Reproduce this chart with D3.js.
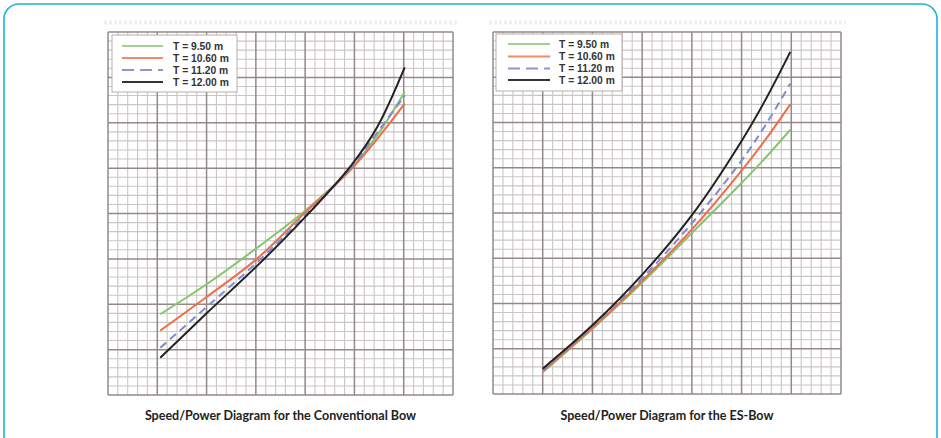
<!DOCTYPE html>
<html>
<head>
<meta charset="utf-8">
<script src="https://cdn.jsdelivr.net/npm/d3@7"></script>
<style>
  html, body { margin: 0; padding: 0; background: #ffffff; }
  svg { display: block; }
</style>
</head>
<body>
<svg id="chart" width="941" height="438"></svg>
<script>
// ---------------- DATA (grid units: 35 minor divisions across, 40 up) ----------------
const seriesLabels = ["T = 9.50 m", "T = 10.60 m", "T = 11.20 m", "T = 12.00 m"];
const captions = ["Speed/Power Diagram for the Conventional Bow", "Speed/Power Diagram for the ES-Bow"];

// Conventional bow
const convSpeed   = [5.3, 10.0, 15.1, 20.0, 24.6, 27.3, 30.1];
const convT950    = [8.9, 12.2, 16.2, 20.3, 24.9, 28.6, 33.4];
const convT1060   = [7.1, 10.8, 15.0, 20.1, 24.8, 28.2, 32.1];
const convT1120   = [5.2,  9.7, 14.6, 19.8, 25.0, 28.9, 33.0];
const convT1200   = [4.1,  9.0, 14.2, 19.6, 25.2, 29.5, 36.1];

// ES-Bow
const esSpeed     = [5.0, 10.1, 15.1, 20.1, 24.8, 27.4, 29.9];
const esT950      = [2.4,  7.3, 12.4, 17.9, 23.1, 26.1, 29.2];
const esT1060     = [2.5,  7.4, 12.6, 18.3, 24.4, 28.1, 32.0];
const esT1120     = [2.6,  7.6, 12.9, 19.0, 25.5, 29.7, 34.3];
const esT1200     = [2.8,  7.7, 13.3, 19.9, 27.6, 32.5, 37.8];

const xMax = 35, yMax = 40, majorEvery = 5;

// ---------------- STYLES ----------------
const seriesColors = ["#86c56f", "#ee6e48", "#7f8bd0", "#222222"];
const legendColors = ["#a3d08c", "#f08a68", "#8e96cf", "#333333"];
const seriesDash   = [null, null, "8,5", null];

const panels = [
  { speed: convSpeed, series: [convT950, convT1060, convT1120, convT1200], caption: captions[0],
    x0: 108, x1: 453, y0: 32, y1: 395,
    legend: { bx: 112, by: 35, bw: 125, bh: 57, lx0: 122, lx1: 163, tx: 173, rowY: [46, 58, 70, 82] } },
  { speed: esSpeed, series: [esT950, esT1060, esT1120, esT1200], caption: captions[1],
    x0: 493, x1: 841, y0: 32, y1: 394,
    legend: { bx: 496, by: 34, bw: 126, bh: 57, lx0: 508, lx1: 550, tx: 559, rowY: [44, 56.5, 68.5, 80] } }
];

const svg = d3.select("#chart");

// outer rounded frame
svg.append("rect")
  .attr("x", 4).attr("y", 4).attr("width", 933).attr("height", 470)
  .attr("rx", 15).attr("ry", 15)
  .attr("fill", "none").attr("stroke", "#22b3d6").attr("stroke-width", 1.6);

panels.forEach(p => {
  const x = d3.scaleLinear().domain([0, xMax]).range([p.x0, p.x1]);
  const y = d3.scaleLinear().domain([0, yMax]).range([p.y1, p.y0]);
  const g = svg.append("g");

  // faint scanned strip above the grid
  g.append("line")
    .attr("x1", p.x0 - 4).attr("x2", p.x1 + 5).attr("y1", 22.5).attr("y2", 22.5)
    .attr("stroke", "#efefef").attr("stroke-width", 4).attr("stroke-dasharray", "3,2");

  const xt = d3.range(0, xMax + 1), yt = d3.range(0, yMax + 1);

  // minor grid
  g.append("g").selectAll("line").data(xt.filter(d => d % majorEvery)).join("line")
    .attr("x1", d => x(d)).attr("x2", d => x(d)).attr("y1", p.y0).attr("y2", p.y1)
    .attr("stroke", "#ccc5c5").attr("stroke-width", 1.1);
  g.append("g").selectAll("line").data(yt.filter(d => d % majorEvery)).join("line")
    .attr("y1", d => y(d)).attr("y2", d => y(d)).attr("x1", p.x0).attr("x2", p.x1)
    .attr("stroke", "#ccc5c5").attr("stroke-width", 1.1);

  // major grid
  g.append("g").selectAll("line").data(xt.filter(d => d % majorEvery === 0)).join("line")
    .attr("x1", d => x(d)).attr("x2", d => x(d)).attr("y1", p.y0).attr("y2", p.y1)
    .attr("stroke", "#948888").attr("stroke-width", 1.5);
  g.append("g").selectAll("line").data(yt.filter(d => d % majorEvery === 0)).join("line")
    .attr("y1", d => y(d)).attr("y2", d => y(d)).attr("x1", p.x0).attr("x2", p.x1)
    .attr("stroke", "#948888").attr("stroke-width", 1.5);

  // legend box (covers grid)
  const L = p.legend;
  g.append("rect").attr("x", L.bx).attr("y", L.by).attr("width", L.bw).attr("height", L.bh)
    .attr("fill", "#ffffff").attr("stroke", "#b5aeae").attr("stroke-width", 1);
  seriesLabels.forEach((lab, i) => {
    g.append("line").attr("x1", L.lx0).attr("x2", L.lx1).attr("y1", L.rowY[i]).attr("y2", L.rowY[i])
      .attr("stroke", legendColors[i]).attr("stroke-width", 2.2)
      .attr("stroke-dasharray", seriesDash[i] ? "12,6" : null);
    g.append("text").attr("x", L.tx).attr("y", L.rowY[i] + 3.6)
      .attr("font-family", "Liberation Sans, Arial, sans-serif").attr("font-weight", "bold")
      .attr("font-size", 10.3).attr("fill", "#333333").text(lab);
  });

  // curves
  const line = d3.line().x(d => x(d[0])).y(d => y(d[1])).curve(d3.curveCatmullRom.alpha(0.5));
  p.series.forEach((vals, i) => {
    g.append("path")
      .attr("d", line(p.speed.map((s, k) => [s, vals[k]])))
      .attr("fill", "none").attr("stroke", seriesColors[i]).attr("stroke-width", 2)
      .attr("stroke-dasharray", seriesDash[i]).attr("stroke-linecap", "butt");
  });

  // caption
  g.append("text").attr("x", (p.x0 + p.x1) / 2).attr("y", 420).attr("text-anchor", "middle")
    .attr("font-family", "Lato, 'Open Sans', sans-serif").attr("font-weight", "bold")
    .attr("font-size", 12.5).attr("fill", "#222222").text(p.caption);
});
</script>
</body>
</html>
